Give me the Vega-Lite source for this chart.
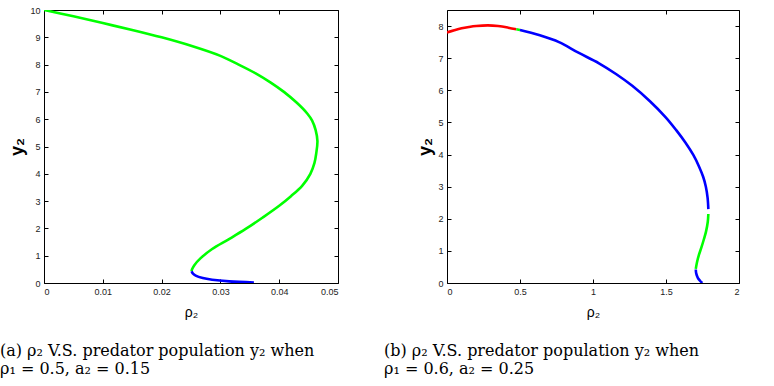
{
  "$schema": "https://vega.github.io/schema/vega-lite/v6.json",
  "padding": {"left": -1, "top": 5, "right": 0, "bottom": 0},
  "background": "white",
  "bounds": "flush",
  "spacing": 109,
  "config": {
    "view": {"stroke": "#000", "strokeWidth": 1},
    "axis": {"grid": false, "domain": false, "tickColor": "#000", "tickSize": -4, "tickWidth": 1, "labelFont": "Liberation Sans", "labelFontSize": 9, "labelColor": "#222", "labelPadding": 8, "titleFont": "Liberation Sans", "titleColor": "#000"},
    "title": {"font": "DejaVu Serif", "fontSize": 16, "fontWeight": "normal", "color": "#000"}
  },
  "datasets": {
    "left": [
      {"seg": "L1", "type": "A", "i": 1, "rho2": 0, "y2": 10},
      {"seg": "L1", "type": "A", "i": 2, "rho2": 0.005, "y2": 9.77},
      {"seg": "L1", "type": "A", "i": 3, "rho2": 0.01, "y2": 9.52},
      {"seg": "L1", "type": "A", "i": 4, "rho2": 0.015, "y2": 9.27},
      {"seg": "L1", "type": "A", "i": 5, "rho2": 0.02, "y2": 9.0},
      {"seg": "L1", "type": "A", "i": 6, "rho2": 0.025, "y2": 8.69},
      {"seg": "L1", "type": "A", "i": 7, "rho2": 0.03, "y2": 8.32},
      {"seg": "L1", "type": "A", "i": 8, "rho2": 0.0331, "y2": 8.0},
      {"seg": "L1", "type": "A", "i": 9, "rho2": 0.036, "y2": 7.68},
      {"seg": "L1", "type": "A", "i": 10, "rho2": 0.0385, "y2": 7.35},
      {"seg": "L1", "type": "A", "i": 11, "rho2": 0.0408, "y2": 7.0},
      {"seg": "L1", "type": "A", "i": 12, "rho2": 0.043, "y2": 6.6},
      {"seg": "L1", "type": "A", "i": 13, "rho2": 0.0448, "y2": 6.2},
      {"seg": "L1", "type": "A", "i": 14, "rho2": 0.0456, "y2": 5.95},
      {"seg": "L1", "type": "A", "i": 15, "rho2": 0.0462, "y2": 5.6},
      {"seg": "L1", "type": "A", "i": 16, "rho2": 0.0465, "y2": 5.2},
      {"seg": "L1", "type": "A", "i": 17, "rho2": 0.0463, "y2": 4.75},
      {"seg": "L1", "type": "A", "i": 18, "rho2": 0.046, "y2": 4.4},
      {"seg": "L1", "type": "A", "i": 19, "rho2": 0.0453, "y2": 4.0},
      {"seg": "L1", "type": "A", "i": 20, "rho2": 0.0439, "y2": 3.56},
      {"seg": "L1", "type": "A", "i": 21, "rho2": 0.042, "y2": 3.18},
      {"seg": "L1", "type": "A", "i": 22, "rho2": 0.04, "y2": 2.83},
      {"seg": "L1", "type": "A", "i": 23, "rho2": 0.0372, "y2": 2.4},
      {"seg": "L1", "type": "A", "i": 24, "rho2": 0.0343, "y2": 1.98},
      {"seg": "L1", "type": "A", "i": 25, "rho2": 0.0314, "y2": 1.6},
      {"seg": "L1", "type": "A", "i": 26, "rho2": 0.0286, "y2": 1.245},
      {"seg": "L1", "type": "A", "i": 27, "rho2": 0.0266, "y2": 0.9},
      {"seg": "L1", "type": "A", "i": 28, "rho2": 0.0256, "y2": 0.66},
      {"seg": "L1", "type": "A", "i": 29, "rho2": 0.0252, "y2": 0.51},
      {"seg": "L1", "type": "A", "i": 30, "rho2": 0.0251, "y2": 0.43},
      {"seg": "L2", "type": "B", "i": 31, "rho2": 0.0251, "y2": 0.43},
      {"seg": "L2", "type": "B", "i": 32, "rho2": 0.0253, "y2": 0.35},
      {"seg": "L2", "type": "B", "i": 33, "rho2": 0.0258, "y2": 0.27},
      {"seg": "L2", "type": "B", "i": 34, "rho2": 0.027, "y2": 0.18},
      {"seg": "L2", "type": "B", "i": 35, "rho2": 0.0286, "y2": 0.12},
      {"seg": "L2", "type": "B", "i": 36, "rho2": 0.0315, "y2": 0.06},
      {"seg": "L2", "type": "B", "i": 37, "rho2": 0.0357, "y2": 0.02}
    ],
    "right": [
      {"seg": "R1", "type": "C", "i": 1, "rho2": 0, "y2": 7.8},
      {"seg": "R1", "type": "C", "i": 2, "rho2": 0.05, "y2": 7.87},
      {"seg": "R1", "type": "C", "i": 3, "rho2": 0.1, "y2": 7.93},
      {"seg": "R1", "type": "C", "i": 4, "rho2": 0.15, "y2": 7.97},
      {"seg": "R1", "type": "C", "i": 5, "rho2": 0.2, "y2": 8.0},
      {"seg": "R1", "type": "C", "i": 6, "rho2": 0.28, "y2": 8.02},
      {"seg": "R1", "type": "C", "i": 7, "rho2": 0.35, "y2": 8.0},
      {"seg": "R1", "type": "C", "i": 8, "rho2": 0.42, "y2": 7.95},
      {"seg": "R1", "type": "C", "i": 9, "rho2": 0.475, "y2": 7.9},
      {"seg": "R2", "type": "A", "i": 10, "rho2": 0.475, "y2": 7.9},
      {"seg": "R2", "type": "A", "i": 11, "rho2": 0.5, "y2": 7.88},
      {"seg": "R3", "type": "B", "i": 12, "rho2": 0.5, "y2": 7.88},
      {"seg": "R3", "type": "B", "i": 13, "rho2": 0.63, "y2": 7.72},
      {"seg": "R3", "type": "B", "i": 14, "rho2": 0.767, "y2": 7.5},
      {"seg": "R3", "type": "B", "i": 15, "rho2": 0.9, "y2": 7.17},
      {"seg": "R3", "type": "B", "i": 16, "rho2": 1.041, "y2": 6.84},
      {"seg": "R3", "type": "B", "i": 17, "rho2": 1.16, "y2": 6.5},
      {"seg": "R3", "type": "B", "i": 18, "rho2": 1.269, "y2": 6.14},
      {"seg": "R3", "type": "B", "i": 19, "rho2": 1.39, "y2": 5.66},
      {"seg": "R3", "type": "B", "i": 20, "rho2": 1.498, "y2": 5.16},
      {"seg": "R3", "type": "B", "i": 21, "rho2": 1.57, "y2": 4.76},
      {"seg": "R3", "type": "B", "i": 22, "rho2": 1.635, "y2": 4.36},
      {"seg": "R3", "type": "B", "i": 23, "rho2": 1.688, "y2": 3.98},
      {"seg": "R3", "type": "B", "i": 24, "rho2": 1.726, "y2": 3.63},
      {"seg": "R3", "type": "B", "i": 25, "rho2": 1.755, "y2": 3.3},
      {"seg": "R3", "type": "B", "i": 26, "rho2": 1.773, "y2": 3.0},
      {"seg": "R3", "type": "B", "i": 27, "rho2": 1.785, "y2": 2.65},
      {"seg": "R3", "type": "B", "i": 28, "rho2": 1.79, "y2": 2.3},
      {"seg": "R4", "type": "A", "i": 29, "rho2": 1.79, "y2": 2.15},
      {"seg": "R4", "type": "A", "i": 30, "rho2": 1.786, "y2": 1.9},
      {"seg": "R4", "type": "A", "i": 31, "rho2": 1.774, "y2": 1.6},
      {"seg": "R4", "type": "A", "i": 32, "rho2": 1.76, "y2": 1.37},
      {"seg": "R4", "type": "A", "i": 33, "rho2": 1.742, "y2": 1.1},
      {"seg": "R4", "type": "A", "i": 34, "rho2": 1.726, "y2": 0.88},
      {"seg": "R4", "type": "A", "i": 35, "rho2": 1.712, "y2": 0.64},
      {"seg": "R4", "type": "A", "i": 36, "rho2": 1.704, "y2": 0.44},
      {"seg": "R5", "type": "B", "i": 37, "rho2": 1.704, "y2": 0.42},
      {"seg": "R5", "type": "B", "i": 38, "rho2": 1.707, "y2": 0.3},
      {"seg": "R5", "type": "B", "i": 39, "rho2": 1.718, "y2": 0.16},
      {"seg": "R5", "type": "B", "i": 40, "rho2": 1.733, "y2": 0.07},
      {"seg": "R5", "type": "B", "i": 41, "rho2": 1.749, "y2": 0.0}
    ]
  },
  "hconcat": [
    {
      "width": 294,
      "height": 273,
      "data": {"name": "left"},
      "title": {"text": ["(a) ρ₂ V.S. predator population y₂ when", "ρ₁ = 0.5, a₂ = 0.15"], "orient": "bottom", "anchor": "start", "frame": "group", "dx": -44, "offset": 24, "lineHeight": 18},
      "layer": [
        {
          "mark": {"type": "line", "strokeWidth": 2.6, "clip": true, "interpolate": "catmull-rom"},
          "encoding": {
            "x": {"field": "rho2", "type": "quantitative", "scale": {"domain": [0, 0.05], "nice": false, "zero": false}, "axis": {"orient": "bottom", "values": [0, 0.01, 0.02, 0.03, 0.04, 0.05], "format": "~g", "title": "ρ₂", "titleFontSize": 14, "titleFontWeight": "normal", "titlePadding": 9}},
            "y": {"field": "y2", "type": "quantitative", "scale": {"domain": [0, 10], "nice": false}, "axis": {"orient": "left", "values": [0, 1, 2, 3, 4, 5, 6, 7, 8, 9, 10], "title": "y₂", "titleFontSize": 18, "titleFontWeight": "bold", "titlePadding": 3}},
            "color": {"field": "type", "type": "nominal", "scale": {"domain": ["A", "B", "C"], "range": ["#00ff00", "#0000ff", "#ff0000"]}, "legend": null},
            "detail": {"field": "seg"},
            "order": {"field": "i", "type": "quantitative"}
          }
        },
        {
          "mark": {"type": "point", "opacity": 0},
          "encoding": {
            "x": {"field": "rho2", "type": "quantitative", "axis": {"orient": "top", "labels": false, "values": [0, 0.01, 0.02, 0.03, 0.04, 0.05], "title": null}},
            "y": {"field": "y2", "type": "quantitative", "axis": {"orient": "right", "labels": false, "values": [0, 1, 2, 3, 4, 5, 6, 7, 8, 9, 10], "title": null}}
          }
        }
      ]
    },
    {
      "width": 292,
      "height": 273,
      "data": {"name": "right"},
      "title": {"text": ["(b) ρ₂ V.S. predator population y₂ when", "ρ₁ = 0.6, a₂ = 0.25"], "orient": "bottom", "anchor": "start", "frame": "group", "dx": -63, "offset": 24, "lineHeight": 18},
      "layer": [
        {
          "mark": {"type": "line", "strokeWidth": 2.6, "clip": true, "interpolate": "catmull-rom"},
          "encoding": {
            "x": {"field": "rho2", "type": "quantitative", "scale": {"domain": [0, 2], "nice": false, "zero": false}, "axis": {"orient": "bottom", "values": [0, 0.5, 1, 1.5, 2], "format": "~g", "title": "ρ₂", "titleFontSize": 14, "titleFontWeight": "normal", "titlePadding": 9}},
            "y": {"field": "y2", "type": "quantitative", "scale": {"domain": [0, 8.5], "nice": false}, "axis": {"orient": "left", "values": [0, 1, 2, 3, 4, 5, 6, 7, 8], "title": "y₂", "titleFontSize": 18, "titleFontWeight": "bold", "titlePadding": 3}},
            "color": {"field": "type", "type": "nominal", "scale": {"domain": ["A", "B", "C"], "range": ["#00ff00", "#0000ff", "#ff0000"]}, "legend": null},
            "detail": {"field": "seg"},
            "order": {"field": "i", "type": "quantitative"}
          }
        },
        {
          "mark": {"type": "point", "opacity": 0},
          "encoding": {
            "x": {"field": "rho2", "type": "quantitative", "axis": {"orient": "top", "labels": false, "values": [0, 0.5, 1, 1.5, 2], "title": null}},
            "y": {"field": "y2", "type": "quantitative", "axis": {"orient": "right", "labels": false, "values": [0, 1, 2, 3, 4, 5, 6, 7, 8], "title": null}}
          }
        }
      ]
    }
  ]
}
